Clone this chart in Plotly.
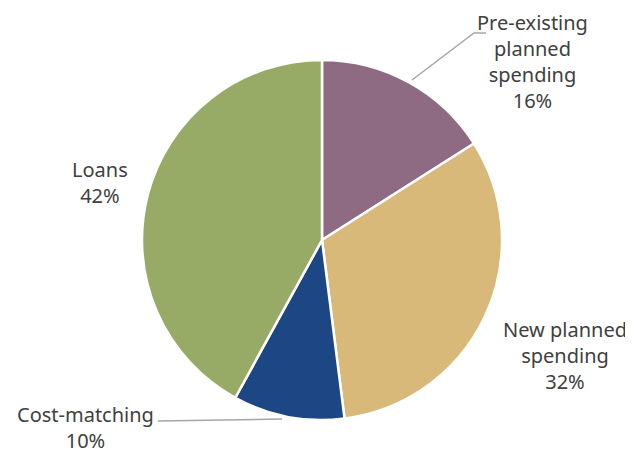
import plotly.graph_objects as go

# Page has an 8px body margin; work in reference pixel coordinates shifted by it.
OFF = 8
W, H = 633 - OFF, 453 - OFF
labels = ["Pre-existing planned spending", "New planned spending", "Cost-matching", "Loans"]
values = [16, 32, 10, 42]
colors = ["#8E6B82", "#D9B97A", "#1D4684", "#97AB67"]
label_text = ["Pre-existing<br>planned<br>spending<br>16%", "New planned<br>spending<br>32%",
              "Cost-matching<br>10%", "Loans<br>42%"]
label_pos = [(532, 61), (565, 355), (85, 427), (100, 182)]  # reference pixel centres

def px(x, y):
    return (x - OFF) / W, 1 - (y - OFF) / H

cx, cy, r = 322, 240, 180
x0, y1 = px(cx - r, cy - r)
x1, y0 = px(cx + r, cy + r)

fig = go.Figure(go.Pie(
    labels=labels, values=values, sort=False, direction="clockwise", rotation=0,
    marker=dict(colors=colors, line=dict(color="white", width=2.5)),
    textinfo="none", hoverinfo="label+percent", showlegend=False,
    domain=dict(x=[x0, x1], y=[y0, y1]),
))

anns = []
for t, (x, y) in zip(label_text, label_pos):
    ax, ay = px(x, y)
    anns.append(dict(text=t, x=ax, y=ay, xref="paper", yref="paper", showarrow=False,
                     xanchor="center", yanchor="middle", align="center",
                     font=dict(family="Noto Sans", size=20, color="#404040")))

shapes = []
for pts in [[(412, 80), (474, 33), (486, 33)], [(282, 419), (158, 421)]]:
    path = "M " + " L ".join(f"{px(x, y)[0]},{px(x, y)[1]}" for x, y in pts)
    shapes.append(dict(type="path", path=path, xref="paper", yref="paper",
                       line=dict(color="#A6A6A6", width=1.5)))

fig.update_layout(width=W, height=H, margin=dict(l=0, r=0, t=0, b=0),
                  paper_bgcolor="white", plot_bgcolor="white",
                  annotations=anns, shapes=shapes)
fig.write_html("out.html")
